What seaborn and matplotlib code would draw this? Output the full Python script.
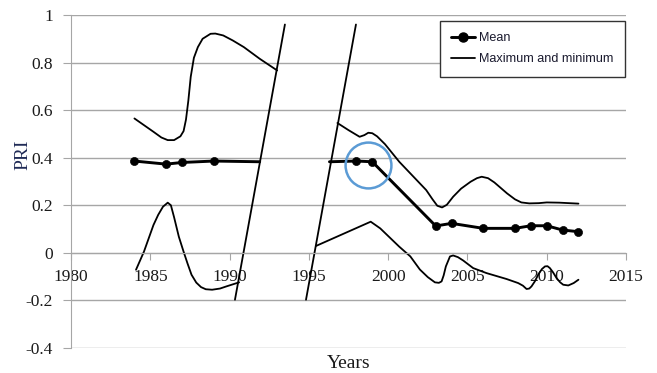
import numpy as np
import matplotlib
matplotlib.use('Agg')
import matplotlib.pyplot as plt
import seaborn as sns
from matplotlib.lines import Line2D

sns.set_style('white')
plt.rcParams['font.family'] = ['Liberation Serif', 'DejaVu Serif']

# Mean PRI (points with markers)
mean_left_years = [1984, 1986, 1987, 1989]
mean_left_vals = [0.386, 0.373, 0.380, 0.386]
mean_right_years = [1998, 1999, 2003, 2004, 2006, 2008, 2009, 2010, 2011, 2012]
mean_right_vals = [0.386, 0.383, 0.113, 0.124, 0.103, 0.103, 0.114, 0.114, 0.096, 0.089]
# where the mean line meets the axis break
mean_break_years = [1991.9, 1996.3]
mean_break_vals = [0.383, 0.383]

# Maximum curve
max_left_years = [1984.0, 1984.6, 1985.2, 1985.7, 1986.1, 1986.5, 1986.9, 1987.1, 1987.25,
                  1987.4, 1987.55, 1987.75, 1988.0, 1988.3, 1988.8, 1989.1, 1989.6,
                  1990.2, 1990.9, 1991.9, 1993.0]
max_left_vals = [0.565, 0.537, 0.509, 0.485, 0.474, 0.474, 0.490, 0.512, 0.560,
                 0.640, 0.740, 0.820, 0.865, 0.900, 0.921, 0.922, 0.914,
                 0.893, 0.865, 0.816, 0.767]
max_right_years = [1996.8, 1997.5, 1998.2, 1998.5, 1998.75, 1999.0, 1999.3, 1999.8,
                   2000.7, 2001.6, 2002.4, 2002.8, 2003.1, 2003.4, 2003.7, 2004.1,
                   2004.6, 2005.2, 2005.6, 2005.9, 2006.3, 2006.7, 2007.5, 2008.0,
                   2008.4, 2008.9, 2009.5, 2010.0, 2010.8, 2012.0]
max_right_vals = [0.546, 0.516, 0.488, 0.495, 0.505, 0.503, 0.490, 0.457,
                  0.383, 0.320, 0.264, 0.225, 0.198, 0.191, 0.202, 0.236,
                  0.270, 0.299, 0.314, 0.320, 0.314, 0.296, 0.250, 0.225,
                  0.212, 0.208, 0.209, 0.212, 0.211, 0.207]

# Minimum curve
min_left_years = [1984.1, 1984.6, 1985.2, 1985.5, 1985.8, 1986.1, 1986.3, 1986.5, 1986.8,
                  1987.1, 1987.35, 1987.6, 1987.9, 1988.2, 1988.5, 1988.9, 1989.4,
                  1989.8, 1990.6]
min_left_vals = [-0.071, 0.005, 0.117, 0.160, 0.194, 0.211, 0.200, 0.150, 0.068,
                 0.005, -0.045, -0.092, -0.125, -0.144, -0.153, -0.155, -0.150,
                 -0.141, -0.124]
min_right_years = [1995.45, 1998.9, 1999.5, 2000.7, 2001.4, 2002.0, 2002.5, 2002.95,
                   2003.2, 2003.37, 2003.5, 2003.64, 2003.9, 2004.1, 2004.4, 2004.73,
                   2005.36, 2006.2, 2007.47, 2008.2, 2008.5, 2008.73, 2008.9, 2009.04,
                   2009.25, 2009.46, 2009.7, 2009.89, 2010.05, 2010.2, 2010.4, 2010.62,
                   2010.85, 2011.04, 2011.36, 2011.7, 2012.0]
min_right_vals = [0.029, 0.131, 0.103, 0.026, -0.015, -0.070, -0.102, -0.124,
                  -0.126, -0.120, -0.095, -0.057, -0.015, -0.011, -0.018, -0.032,
                  -0.064, -0.085, -0.110, -0.127, -0.138, -0.152, -0.150, -0.141,
                  -0.120, -0.092, -0.068, -0.057, -0.056, -0.064, -0.082, -0.106,
                  -0.124, -0.134, -0.137, -0.127, -0.113]

# Axis break strokes
break1_x = [1990.34, 1993.49]
break1_y = [-0.197, 0.96]
break2_x = [1994.82, 1997.97]
break2_y = [-0.197, 0.96]

# Highlight ring
ring_year = [1998.73]
ring_val = [0.369]

y_ticks = [-0.4, -0.2, 0, 0.2, 0.4, 0.6, 0.8, 1.0]
y_tick_labels = ['-0.4', '-0.2', '0', '0.2', '0.4', '0.6', '0.8', '1']
x_ticks = [1980, 1985, 1990, 1995, 2000, 2005, 2010, 2015]

grid_col = '#a6a6a6'
text_col = '#1a1a1a'

fig = plt.figure(figsize=(6.57, 3.73), dpi=100)
ax = fig.add_axes([71 / 657, 25 / 373, 555 / 657, 333 / 373])

# min / max curves
for xs, ys in [(max_left_years, max_left_vals), (max_right_years, max_right_vals),
               (min_left_years, min_left_vals), (min_right_years, min_right_vals)]:
    sns.lineplot(x=xs, y=ys, ax=ax, color='black', lw=1.3, sort=False, estimator=None)
for line in ax.lines:
    line.set_solid_joinstyle('round')

# mean line + markers
sns.lineplot(x=mean_left_years + mean_break_years[:1], y=mean_left_vals + mean_break_vals[:1],
             ax=ax, color='black', lw=2.1, sort=False, estimator=None)
sns.lineplot(x=mean_break_years[1:] + mean_right_years, y=mean_break_vals[1:] + mean_right_vals,
             ax=ax, color='black', lw=2.1, sort=False, estimator=None)
sns.scatterplot(x=mean_left_years + mean_right_years, y=mean_left_vals + mean_right_vals,
                ax=ax, color='black', s=34, edgecolor='black', zorder=4)

# break strokes
sns.lineplot(x=break1_x, y=break1_y, ax=ax, color='black', lw=1.3, sort=False, estimator=None)
sns.lineplot(x=break2_x, y=break2_y, ax=ax, color='black', lw=1.3, sort=False, estimator=None)

# highlight ring
ax.plot(ring_year, ring_val, marker='o', ms=33, mfc='none', mec='#5b9bd5', mew=1.8,
        ls='none', zorder=5)

ax.set_xlim(1980, 2015)
ax.set_ylim(-0.4, 1.0)
ax.set_xticks(x_ticks)
ax.set_xticklabels([str(t) for t in x_ticks])
ax.set_yticks(y_ticks)
ax.set_yticklabels(y_tick_labels)

ax.yaxis.grid(True, color=grid_col, lw=1)
ax.xaxis.grid(False)
ax.set_axisbelow(True)
ax.spines['top'].set_visible(False)
ax.spines['right'].set_visible(False)
ax.spines['bottom'].set_position(('data', 0))
ax.spines['bottom'].set_color(grid_col)
ax.spines['left'].set_color(grid_col)
ax.tick_params(axis='x', bottom=True, direction='out', length=5, color=grid_col,
               pad=6.5, labelsize=12.5, labelcolor=text_col)
ax.tick_params(axis='y', left=True, direction='out', length=6, color=grid_col,
               pad=7, labelsize=12.5, labelcolor=text_col)
ax.set_xlabel('')
ax.set_ylabel('')

fig.text(349 / 657, 1 - 368 / 373, 'Years', ha='center', va='baseline', fontsize=14, color=text_col)
fig.text(23 / 657, 1 - 155 / 373, 'PRI', rotation=90, ha='center', va='center',
         fontsize=14, color='#1f2a56')

handles = [Line2D([], [], color='black', lw=2.1, marker='o', ms=6.5),
           Line2D([], [], color='black', lw=1.3)]
leg = ax.legend(handles, ['Mean', 'Maximum and minimum'], loc='upper right',
                bbox_to_anchor=(625 / 657, 1 - 21 / 373), bbox_transform=fig.transFigure,
                prop={'family': 'Liberation Sans', 'size': 9.1}, frameon=True,
                fancybox=False, edgecolor='#333333', framealpha=1, borderaxespad=0,
                handlelength=1.9, handletextpad=0.3, labelspacing=0.72, borderpad=0.9)
leg.get_frame().set_linewidth(1.0)
for t in leg.get_texts():
    t.set_color('#1a1a2e')

fig.savefig('out.png', dpi=100)
